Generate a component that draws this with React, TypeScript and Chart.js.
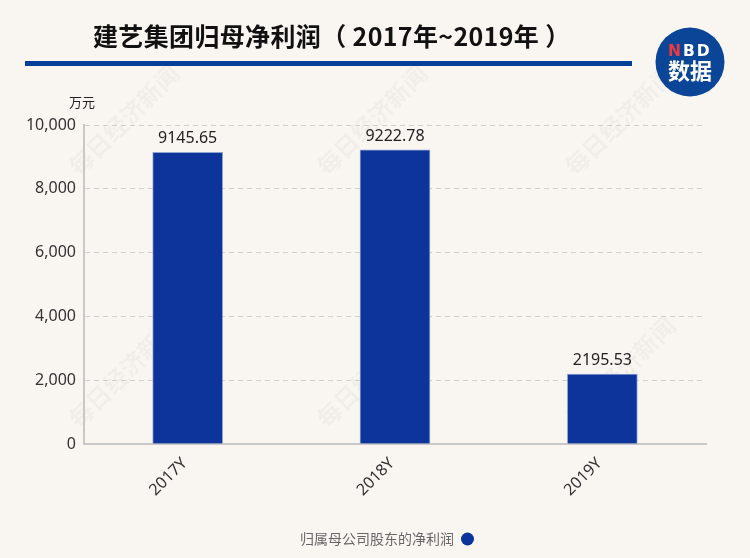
import React, { useEffect, useRef } from "react";
import Chart from "chart.js/auto";

const categories = ["2017Y", "2018Y", "2019Y"];
const netProfit = [9145.65, 9222.78, 2195.53];
const valueLabels = ["9145.65", "9222.78", "2195.53"];
const seriesName = "归属母公司股东的净利润";
const titleText = "建艺集团归母净利润（ 2017年~2019年 ）";
const unitText = "万元";
const watermarkText = "每日经济新闻";

const CJK = '"Noto Sans CJK SC", "Noto Sans", sans-serif';
const LATIN = '"Noto Sans", "Noto Sans CJK SC", sans-serif';

// title, rule, logo and watermark sit behind the plot
const backdrop = {
  id: "backdrop",
  beforeDraw(chart: any) {
    const ctx = chart.ctx;
    ctx.save();
    ctx.fillStyle = "#f9f6f2";
    ctx.fillRect(0, 0, chart.width, chart.height);

    // watermark grid
    ctx.fillStyle = "rgba(0,0,0,0.03)";
    ctx.font = `700 24px ${CJK}`;
    ctx.textAlign = "center";
    ctx.textBaseline = "middle";
    for (const y of [120, 372]) {
      for (const x of [124, 372, 620]) {
        ctx.save();
        ctx.translate(x, y);
        ctx.rotate(-Math.PI / 4);
        ctx.fillText(watermarkText, 0, 0);
        ctx.restore();
      }
    }

    ctx.fillStyle = "#111";
    ctx.font = `700 25px ${CJK}`;
    ctx.textAlign = "left";
    ctx.textBaseline = "alphabetic";
    ctx.letterSpacing = "0.35px";
    ctx.fillText(titleText, 93, 46);

    ctx.fillStyle = "#004098";
    ctx.fillRect(25, 61, 607, 5);

    // logo
    ctx.fillStyle = "#0b4598";
    ctx.beginPath();
    ctx.arc(690, 62, 34.5, 0, Math.PI * 2);
    ctx.fill();
    ctx.font = `700 15.5px "DejaVu Sans", ${LATIN}`;
    ctx.letterSpacing = "2px";
    ctx.textAlign = "left";
    ctx.fillStyle = "#ee3a3f";
    ctx.fillText("N", 668, 56);
    ctx.fillStyle = "#fff";
    ctx.fillText("BD", 683, 56);
    ctx.letterSpacing = "0px";
    ctx.font = `700 22px ${CJK}`;
    ctx.textAlign = "center";
    ctx.fillText("数据", 690, 79);

    ctx.fillStyle = "#222";
    ctx.font = `400 13px ${CJK}`;
    ctx.textAlign = "left";
    ctx.fillText(unitText, 69, 107);
    ctx.restore();
  },
};

// value labels above the bars
const barValues = {
  id: "barValues",
  afterDatasetsDraw(chart: any) {
    const ctx = chart.ctx;
    ctx.save();
    ctx.fillStyle = "#222";
    ctx.font = `400 16px ${LATIN}`;
    ctx.textAlign = "center";
    ctx.textBaseline = "alphabetic";
    chart.getDatasetMeta(0).data.forEach((bar: any, i: number) => {
      ctx.fillText(valueLabels[i], bar.x, bar.y - 9);
    });
    ctx.restore();
  },
};

export default function App() {
  const canvasRef = useRef<HTMLCanvasElement>(null);

  useEffect(() => {
    document.body.style.margin = "0";
    document.body.style.background = "#f9f6f2";
    if (!canvasRef.current) return;

    const chart = new Chart(canvasRef.current, {
      type: "bar",
      data: {
        labels: categories,
        datasets: [
          {
            label: seriesName,
            data: netProfit,
            backgroundColor: "#0d349b",
            borderColor: "#8fa3cf",
            borderWidth: 1,
            barThickness: 70,
          },
        ],
      },
      options: {
        responsive: false,
        animation: false,
        layout: { padding: { left: 24, right: 0, top: 125, bottom: 2 } },
        plugins: {
          tooltip: { enabled: false },
          legend: {
            position: "bottom",
            rtl: true,
            textDirection: "ltr",
            labels: {
              usePointStyle: true,
              pointStyle: "circle",
              pointStyleWidth: 13,
              boxHeight: 9.2,
              padding: 6,
              color: "#666",
              font: { family: CJK, size: 14 },
              generateLabels: () => [
                {
                  text: seriesName,
                  fillStyle: "#0d349b",
                  strokeStyle: "#0d349b",
                  lineWidth: 0,
                  pointStyle: "circle",
                  datasetIndex: 0,
                  fontColor: "#666",
                },
              ],
            },
          },
        },
        scales: {
          x: {
            grid: { display: false, drawTicks: false },
            border: { color: "#c8c8c8", width: 2 },
            ticks: {
              color: "#333",
              font: { family: LATIN, size: 16 },
              minRotation: 45,
              maxRotation: 45,
              padding: 10,
              labelOffset: -3,
            },
            afterFit: (s: any) => {
              s.height = 82;
            },
          },
          y: {
            min: 0,
            max: 10000,
            grid: { color: "#cfcfcb", drawTicks: false },
            // dash applies to the grid lines, the axis line itself stays solid
            border: { color: "#c8c8c8", width: 2, dash: [5, 4] },
            ticks: {
              stepSize: 2000,
              color: "#333",
              padding: 8,
              font: { family: LATIN, size: 16 },
              callback: (v: any) => Number(v).toLocaleString("en-US"),
            },
            afterFit: (s: any) => {
              s.width = 60;
            },
          },
          // empty axis, only keeps the plot clear of the right edge
          gutter: {
            position: "right",
            grid: { display: false, drawTicks: false },
            border: { display: false },
            ticks: { display: false },
            afterFit: (s: any) => {
              s.width = 44;
            },
          },
        },
      } as any,
      plugins: [backdrop, barValues],
    });

    return () => chart.destroy();
  }, []);

  return <canvas ref={canvasRef} width={750} height={558} style={{ display: "block" }} />;
}
